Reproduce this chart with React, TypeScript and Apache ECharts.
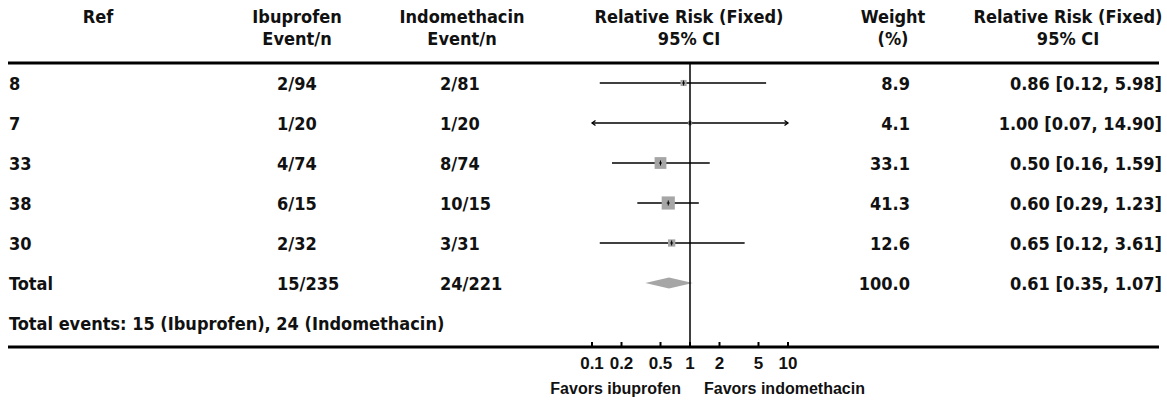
import React, { useEffect, useRef } from "react";
import * as echarts from "echarts";

// ---------- data ----------
const refs = ["8", "7", "33", "38", "30"];
const ibuprofenEvents = ["2/94", "1/20", "4/74", "6/15", "2/32"];
const indomethacinEvents = ["2/81", "1/20", "8/74", "10/15", "3/31"];
const weights = [8.9, 4.1, 33.1, 41.3, 12.6];
const rr = [0.86, 1.0, 0.5, 0.6, 0.65];
const rrLower = [0.12, 0.07, 0.16, 0.29, 0.12];
const rrUpper = [5.98, 14.9, 1.59, 1.23, 3.61];

const totalLabel = "Total";
const totalIbuprofen = "15/235";
const totalIndomethacin = "24/221";
const totalWeight = 100.0;
const totalRR = 0.61;
const totalLower = 0.35;
const totalUpper = 1.07;
const totalEventsIbuprofen = 15;
const totalEventsIndomethacin = 24;

const headerLine1 = ["Ref", "Ibuprofen", "Indomethacin", "Relative Risk (Fixed)", "Weight", "Relative Risk (Fixed)"];
const headerLine2 = ["", "Event/n", "Event/n", "95% CI", "(%)", "95% CI"];

const xTickValues = [0.1, 0.2, 0.5, 1, 2, 5, 10];
const xTickLabels = ["0.1", "0.2", "0.5", "1", "2", "5", "10"];

const favorsLeft = "Favors ibuprofen";
const favorsRight = "Favors indomethacin";

// ---------- layout ----------
const FONT = '"DejaVu Sans Condensed", "DejaVu Sans", sans-serif';
const TICK_FONT = '"Liberation Sans", Arial, sans-serif';
const TEXT = "#111111";
const GRAY = "#a6a6a6";
const headerX = [98, 297, 462, 689, 893, 1068];
const colRef = 9;
const colIbu = 277;
const colIndo = 440;
const colWeight = 910;
const colRR = 1162;

const fmtRR = (e: number, l: number, u: number) =>
  `${e.toFixed(2)} [${l.toFixed(2)}, ${u.toFixed(2)}]`;

type Cell = { x: number; v: number; text: string; align: string; size: number };

function buildCells(): Cell[] {
  const cells: Cell[] = [];
  const S = 18;
  headerLine1.forEach((t, i) => cells.push({ x: headerX[i], v: -1.16, text: t, align: "center", size: S }));
  headerLine2.forEach((t, i) => {
    if (t) cells.push({ x: headerX[i], v: -0.62, text: t, align: "center", size: S });
  });
  refs.forEach((r, i) => {
    const v = i + 0.5;
    cells.push({ x: colRef, v, text: r, align: "left", size: S });
    cells.push({ x: colIbu, v, text: ibuprofenEvents[i], align: "left", size: S });
    cells.push({ x: colIndo, v, text: indomethacinEvents[i], align: "left", size: S });
    cells.push({ x: colWeight, v, text: weights[i].toFixed(1), align: "right", size: S });
    cells.push({ x: colRR, v, text: fmtRR(rr[i], rrLower[i], rrUpper[i]), align: "right", size: S });
  });
  const tv = refs.length + 0.5;
  cells.push({ x: colRef, v: tv, text: totalLabel, align: "left", size: S });
  cells.push({ x: colIbu, v: tv, text: totalIbuprofen, align: "left", size: S });
  cells.push({ x: colIndo, v: tv, text: totalIndomethacin, align: "left", size: S });
  cells.push({ x: colWeight, v: tv, text: totalWeight.toFixed(1), align: "right", size: S });
  cells.push({ x: colRR, v: tv, text: fmtRR(totalRR, totalLower, totalUpper), align: "right", size: S });
  cells.push({
    x: colRef,
    v: tv + 1,
    text: `Total events: ${totalEventsIbuprofen} (Ibuprofen), ${totalEventsIndomethacin} (Indomethacin)`,
    align: "left",
    size: S,
  });
  return cells;
}

const LOG_MIN = Math.log10(xTickValues[0]);
const LOG_MAX = Math.log10(xTickValues[xTickValues.length - 1]);
const tickLogs = xTickValues.map((v) => Math.log10(v));

export default function App() {
  const ref = useRef<HTMLDivElement>(null);

  useEffect(() => {
    if (!ref.current) return;
    const chart = echarts.init(ref.current, undefined, { renderer: "svg" });
    const cells = buildCells();
    const Y_MAX = 7.1;

    const ciData = rr.map((_, i) => [Math.log10(rrLower[i]), Math.log10(rrUpper[i]), i + 0.5]);
    const boxData = rr.map((e, i) => [Math.log10(e), i + 0.5, weights[i]]);
    const diamondData = [[Math.log10(totalLower), Math.log10(totalRR), Math.log10(totalUpper), refs.length + 0.5]];
    const tickData = tickLogs.map((t) => [t, Y_MAX]);

    chart.setOption({
      animation: false,
      grid: [
        { left: 592, width: 196, top: 63, height: 284 },
        { left: 0, right: 0, top: 63, height: 284 },
      ],
      xAxis: [
        {
          type: "value",
          gridIndex: 0,
          position: "bottom",
          min: LOG_MIN,
          max: LOG_MAX,
          axisLine: { show: false, onZero: false },
          splitLine: { show: false },
          axisTick: { show: false },
          axisLabel: {
            show: true,
            customValues: tickLogs,
            margin: 8,
            fontFamily: TICK_FONT,
            fontSize: 17,
            fontWeight: "bold",
            color: TEXT,
            formatter: (val: number) => {
              const i = tickLogs.findIndex((t) => Math.abs(t - val) < 1e-6);
              return i >= 0 ? xTickLabels[i] : "";
            },
          },
        },
        { type: "value", gridIndex: 1, min: 0, max: 1167, show: false },
      ],
      yAxis: [
        { type: "value", gridIndex: 0, min: 0, max: Y_MAX, inverse: true, show: false },
        { type: "value", gridIndex: 1, min: 0, max: Y_MAX, inverse: true, show: false },
      ],
      series: [
        {
          type: "custom",
          name: "ci",
          xAxisIndex: 0,
          yAxisIndex: 0,
          clip: false,
          z: 2,
          encode: { x: [0, 1], y: 2 },
          data: ciData,
          renderItem: (params: any, api: any) => {
            const lo = api.value(0);
            const hi = api.value(1);
            const y = api.value(2);
            const p1 = api.coord([Math.max(lo, LOG_MIN), y]);
            const p2 = api.coord([Math.min(hi, LOG_MAX), y]);
            const children: any[] = [
              {
                type: "line",
                shape: { x1: p1[0], y1: p1[1], x2: p2[0], y2: p2[1] },
                style: { stroke: "#000", lineWidth: 1.3 },
              },
            ];
            if (lo < LOG_MIN) {
              children.push({
                type: "polyline",
                shape: { points: [[p1[0] + 3.5, p1[1] - 2.5], [p1[0], p1[1]], [p1[0] + 3.5, p1[1] + 2.5]] },
                style: { stroke: "#000", lineWidth: 1.3, fill: "none" },
              });
            }
            if (hi > LOG_MAX) {
              children.push({
                type: "polyline",
                shape: { points: [[p2[0] - 3.5, p2[1] - 2.5], [p2[0], p2[1]], [p2[0] - 3.5, p2[1] + 2.5]] },
                style: { stroke: "#000", lineWidth: 1.3, fill: "none" },
              });
            }
            return { type: "group", children };
          },
        },
        {
          type: "custom",
          name: "boxes",
          xAxisIndex: 0,
          yAxisIndex: 0,
          clip: false,
          z: 3,
          encode: { x: 0, y: 1 },
          data: boxData,
          renderItem: (params: any, api: any) => {
            const p = api.coord([api.value(0), api.value(1)]);
            const s = 2.05 * Math.sqrt(api.value(2));
            return {
              type: "group",
              children: [
                {
                  type: "rect",
                  shape: { x: p[0] - s / 2, y: p[1] - s / 2, width: s, height: s },
                  style: { fill: GRAY },
                },
                {
                  type: "line",
                  shape: { x1: p[0] - 1.5, y1: p[1], x2: p[0] + 1.5, y2: p[1] },
                  style: { stroke: "#000", lineWidth: 1 },
                },
                {
                  type: "line",
                  shape: { x1: p[0], y1: p[1] - 2.5, x2: p[0], y2: p[1] + 2.5 },
                  style: { stroke: "#000", lineWidth: 1 },
                },
              ],
            };
          },
        },
        {
          type: "custom",
          name: "diamond",
          xAxisIndex: 0,
          yAxisIndex: 0,
          clip: false,
          z: 3,
          encode: { x: [0, 1, 2], y: 3 },
          data: diamondData,
          renderItem: (params: any, api: any) => {
            const y = api.value(3);
            const a = api.coord([api.value(0), y]);
            const m = api.coord([api.value(1), y]);
            const b = api.coord([api.value(2), y]);
            const h = 5.5;
            return {
              type: "polygon",
              shape: { points: [[a[0], a[1]], [m[0], m[1] - h], [b[0], b[1]], [m[0], m[1] + h]] },
              style: { fill: GRAY },
            };
          },
        },
        {
          type: "custom",
          name: "ticks",
          xAxisIndex: 0,
          yAxisIndex: 0,
          clip: false,
          z: 6,
          encode: { x: 0, y: 1 },
          data: tickData,
          renderItem: (params: any, api: any) => {
            const p = api.coord([api.value(0), api.value(1)]);
            return {
              type: "line",
              shape: { x1: p[0], y1: p[1], x2: p[0], y2: p[1] - 5 },
              style: { stroke: "#000", lineWidth: 2 },
            };
          },
        },
        {
          type: "custom",
          name: "noeffect",
          xAxisIndex: 0,
          yAxisIndex: 0,
          clip: false,
          z: 5,
          encode: { x: 0, y: 1 },
          data: [[0, 0]],
          renderItem: (params: any, api: any) => {
            const a = api.coord([api.value(0), 0]);
            const b = api.coord([api.value(0), Y_MAX]);
            return {
              type: "line",
              shape: { x1: a[0], y1: a[1], x2: b[0], y2: b[1] },
              style: { stroke: "#000", lineWidth: 1.5 },
            };
          },
        },
        {
          type: "custom",
          name: "table",
          xAxisIndex: 1,
          yAxisIndex: 1,
          clip: false,
          z: 4,
          encode: { x: 0, y: 1 },
          data: cells.map((c) => [c.x, c.v]),
          renderItem: (params: any, api: any) => {
            const c = cells[params.dataIndex];
            const p = api.coord([c.x, c.v]);
            return {
              type: "text",
              x: p[0],
              y: p[1],
              style: {
                text: c.text,
                align: c.align,
                verticalAlign: "middle",
                textAlign: c.align,
                textVerticalAlign: "middle",
                fontFamily: FONT,
                fontSize: c.size,
                fontWeight: "bold",
                fill: TEXT,
              },
            };
          },
        },
      ],
      graphic: [
        {
          type: "line",
          shape: { x1: 8, y1: 63, x2: 1159, y2: 63 },
          style: { stroke: "#000", lineWidth: 3 },
        },
        {
          type: "line",
          shape: { x1: 8, y1: 347, x2: 1159, y2: 347 },
          style: { stroke: "#000", lineWidth: 3 },
        },
        {
          type: "text",
          x: 681,
          y: 388,
          style: {
            text: favorsLeft,
            align: "right",
            verticalAlign: "middle",
            textAlign: "right",
            textVerticalAlign: "middle",
            fontFamily: TICK_FONT,
            fontSize: 16,
            fontWeight: "bold",
            fill: TEXT,
          },
        },
        {
          type: "text",
          x: 704,
          y: 388,
          style: {
            text: favorsRight,
            align: "left",
            verticalAlign: "middle",
            textAlign: "left",
            textVerticalAlign: "middle",
            fontFamily: TICK_FONT,
            fontSize: 16,
            fontWeight: "bold",
            fill: TEXT,
          },
        },
      ],
    });

    return () => chart.dispose();
  }, []);

  return (
    <div
      ref={ref}
      style={{ position: "fixed", left: 0, top: 0, width: 1167, height: 402, background: "#fff" }}
    />
  );
}
